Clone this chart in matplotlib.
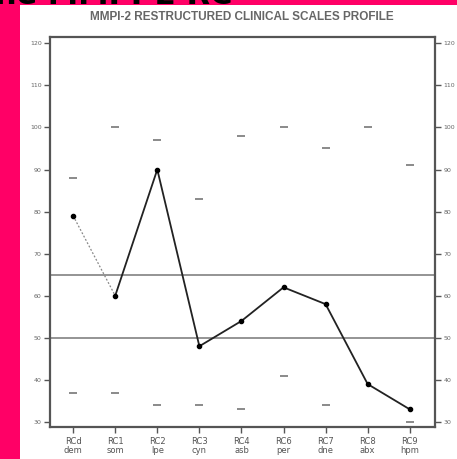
import matplotlib
matplotlib.use('Agg')
import matplotlib.pyplot as plt
from matplotlib.patches import Rectangle

scales = ['RCd\ndem', 'RC1\nsom', 'RC2\nlpe', 'RC3\ncyn', 'RC4\nasb',
          'RC6\nper', 'RC7\ndne', 'RC8\nabx', 'RC9\nhpm']
scores = [79, 60, 90, 48, 54, 62, 58, 39, 33]
range_high = [88, 100, 97, 83, 98, 100, 95, 100, 91]
range_low = [37, 37, 34, 34, 33, 41, 34, None, 30]
cutoffs = [65, 50]
yticks = [30, 40, 50, 60, 70, 80, 90, 100, 110, 120]

fig = plt.figure(figsize=(4.57, 4.59), dpi=100)
fig.patch.set_facecolor('white')

# pink border strips and the cut-off heading above the chart
fig.patches.append(Rectangle((0, 0), 20 / 457, 1, transform=fig.transFigure,
                             facecolor='#ff0066', edgecolor='none', zorder=0))
fig.patches.append(Rectangle((0, 1 - 5 / 459), 1, 5 / 459, transform=fig.transFigure,
                             facecolor='#ff0066', edgecolor='none', zorder=0))
fig.text(-0.01, 1 - 4 / 459, 'ne MMPI-2 RC', fontsize=22, color='black',
         fontweight='bold', va='baseline', ha='left', zorder=5)

ax = fig.add_axes([50 / 457, 32 / 459, 385 / 457, 390 / 459])
x = list(range(1, len(scales) + 1))

for y in cutoffs:
    ax.axhline(y, color='#777777', lw=1.1, zorder=1)

ax.plot(x, range_high, ls='none', marker='_', ms=6, mew=1.2, color='#777777')
lx = [xi for xi, v in zip(x, range_low) if v is not None]
lv = [v for v in range_low if v is not None]
ax.plot(lx, lv, ls='none', marker='_', ms=6, mew=1.2, color='#777777')

ax.plot(x[:2], scores[:2], ls=(0, (1.5, 1.5)), lw=0.9, color='#888888')
ax.plot(x[1:], scores[1:], color='#222222', lw=1.3)
ax.plot(x, scores, ls='none', marker='o', ms=3, color='black')

ax.set_xlim(0.45, 9.6)
ax.set_ylim(28.8, 121.5)
ax.set_xticks(x)
ax.set_xticklabels(scales, fontsize=6, color='#555555', linespacing=1.0)
ax.set_yticks(yticks)
ax.set_yticklabels([str(v) for v in yticks], fontsize=4.5, color='#666666')
ax.tick_params(axis='y', which='both', left=True, right=True,
               labelleft=True, labelright=True, length=4, width=1,
               color='#555555', direction='out', pad=2)
ax.tick_params(axis='x', length=4, width=1, color='#555555', pad=3)
for s in ax.spines.values():
    s.set_color('#555555')
    s.set_linewidth(1.6)

fig.text(242 / 457, 1 - 17 / 459, 'MMPI-2 RESTRUCTURED CLINICAL SCALES PROFILE',
         fontsize=8.5, color='#666666', ha='center', va='center',
         family='Liberation Sans', fontweight='bold')

plt.savefig('out.png', dpi=100)
